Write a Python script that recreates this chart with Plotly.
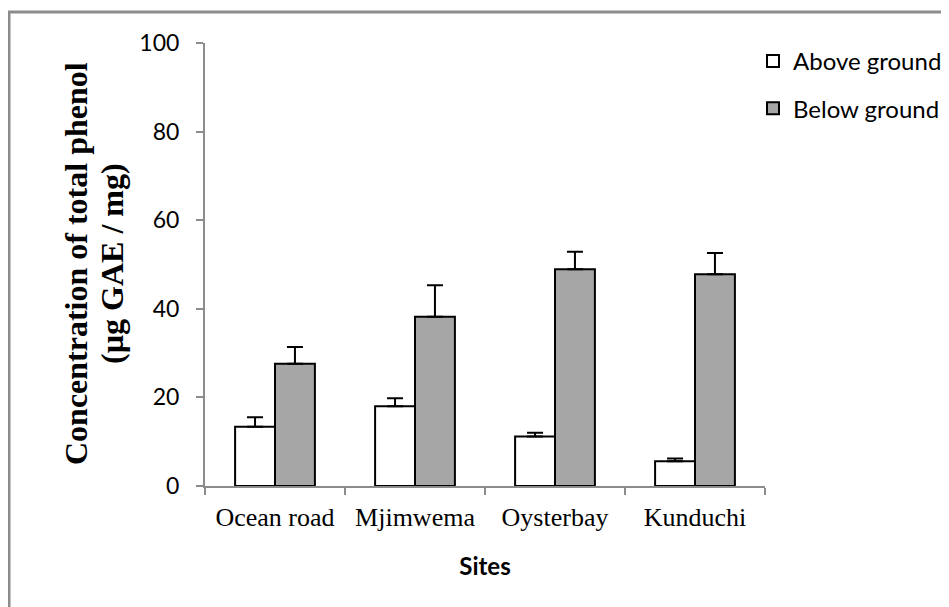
import plotly.graph_objects as go

sites = ["Ocean road", "Mjimwema", "Oysterbay", "Kunduchi"]
above = [13.4, 18.0, 11.2, 5.6]
above_err = [2.1, 1.8, 0.8, 0.6]
below = [27.6, 38.2, 48.9, 47.8]
below_err = [3.8, 7.1, 4.0, 4.8]
y_ticks = [0, 20, 40, 60, 80, 100]

OFF = 8  # browser body margin
W, H = 949 - OFF, 607 - OFF
# plot area in page coordinates
PX0, PX1, PY0, PY1 = 205, 765, 43, 486
L, R = PX0 - OFF, W - (PX1 - OFF)
T, B = PY0 - OFF, H - (PY1 - OFF)
pw, ph = W - L - R, H - T - B


def px(x):
    return (x - OFF - L) / pw


def py(y):
    return (H - B - (y - OFF)) / ph


fig = go.Figure()
fig.add_trace(go.Bar(
    x=sites, y=above, name="Above ground", legendgroup="a",
    marker=dict(color="white", line=dict(color="black", width=2)),
    error_y=dict(type="data", array=above_err, symmetric=False,
                 arrayminus=[0] * len(above_err), color="black", thickness=2, width=8),
))
fig.add_trace(go.Bar(
    x=sites, y=below, name="Below ground", legendgroup="b",
    marker=dict(color="#A6A6A6", line=dict(color="black", width=2)),
    error_y=dict(type="data", array=below_err, symmetric=False,
                 arrayminus=[0] * len(below_err), color="black", thickness=2, width=8),
))

gray = "#8C8C8C"
title_font = dict(family="Liberation Serif", size=32, color="black")
fig.update_layout(
    width=W, height=H,
    margin=dict(l=L, r=R, t=T, b=B, autoexpand=False),
    plot_bgcolor="white", paper_bgcolor="white",
    barmode="group", bargap=0.43, bargroupgap=0,
    showlegend=True,
    legend=dict(x=px(753), y=py(39), xanchor="left", yanchor="top",
                font=dict(family="Lato", size=24, color="black"),
                traceorder="grouped", tracegroupgap=13,
                itemwidth=30, bgcolor="rgba(0,0,0,0)"),
    xaxis=dict(
        showline=True, linecolor=gray, linewidth=2,
        ticks="outside", tickson="boundaries", ticklen=7, tickcolor=gray, tickwidth=2,
        ticklabelstandoff=7,
        tickfont=dict(family="Liberation Serif", size=26, color="black"),
        title=dict(text="<b>Sites</b>", font=dict(family="Lato", size=24, color="black"), standoff=27),
        showgrid=False,
    ),
    yaxis=dict(
        range=[0, 100], tickvals=y_ticks,
        showline=True, linecolor=gray, linewidth=2,
        ticks="outside", ticklen=7, tickcolor=gray, tickwidth=2,
        ticklabelstandoff=12,
        tickfont=dict(family="Lato", size=23, color="black"),
        showgrid=False, zeroline=False,
    ),
    annotations=[
        dict(text="<b>Concentration of total phenol</b>", xref="paper", yref="paper",
             x=px(76), y=py(264), xanchor="center", yanchor="middle", textangle=-90,
             showarrow=False, font=title_font),
        dict(text="<b>(µg GAE / mg)</b>", xref="paper", yref="paper",
             x=px(112), y=py(264), xanchor="center", yanchor="middle", textangle=-90,
             showarrow=False, font=title_font),
    ],
    shapes=[
        dict(type="line", xref="paper", yref="paper", x0=px(9), x1=px(9), y0=py(11), y1=py(700),
             line=dict(color=gray, width=3)),
        dict(type="line", xref="paper", yref="paper", x0=px(8), x1=px(1000), y0=py(12), y1=py(12),
             line=dict(color=gray, width=3)),
    ],
)

fig.write_html("out.html")
